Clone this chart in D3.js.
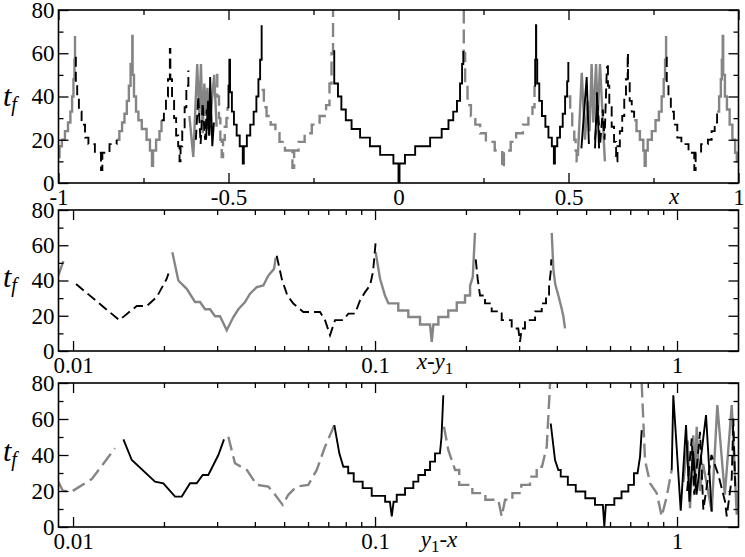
<!DOCTYPE html>
<html>
<head>
<meta charset="utf-8">
<script src="https://cdn.jsdelivr.net/npm/d3@7"></script>
<style>
  body { margin: 0; background: #fff; }
  svg { display: block; font-family: 'Liberation Serif', 'Tinos', 'DejaVu Serif', serif; }
  svg text { font-family: 'Liberation Serif', 'Tinos', 'DejaVu Serif', serif; }
</style>
</head>
<body>
<svg id="chart" width="745" height="557"></svg>
<script>
// ---- tick values ----
const yMajor = [0, 20, 40, 60, 80];
const yMinor = [10, 30, 50, 70];
const p1Major = [-1, -0.5, 0, 0.5, 1];
const p1Minor = [-0.75, -0.25, 0.25, 0.75];
const logMajor = [0.01, 0.1, 1];
const logMinor = [0.02, 0.03, 0.04, 0.05, 0.06, 0.07, 0.08, 0.09, 0.2, 0.3, 0.4, 0.5, 0.6, 0.7, 0.8, 0.9];

// ---- panel 1: t_f vs x (staircase segments, [x, level]) ----
const p1GraySolid = [
  [[-1, 12], [-0.997, 17], [-0.99, 20], [-0.981, 24], [-0.972, 28], [-0.965, 33], [-0.96, 40], [-0.956, 48], [-0.953, 57], [-0.9515, 68]],
  [[-0.829, 20], [-0.821, 24], [-0.813, 28], [-0.806, 32], [-0.799, 38], [-0.793, 45], [-0.788, 55], [-0.783, 68], [-0.782, 50], [-0.778, 40], [-0.772, 33], [-0.765, 29], [-0.755, 25], [-0.741, 20], [-0.731, 15], [-0.725, 8], [-0.722, 15], [-0.713, 20], [-0.703, 24], [-0.697, 29]],
  [[0.693, 29], [0.7, 24], [0.71, 20], [0.72, 15], [0.724, 8], [0.727, 15], [0.733, 20], [0.745, 24], [0.756, 29], [0.766, 33], [0.774, 40], [0.78, 48], [0.784, 57], [0.787, 68]],
  [[0.937, 33], [0.943, 40], [0.948, 48], [0.951, 57], [0.9535, 68], [0.955, 50], [0.96, 40], [0.966, 34], [0.974, 27], [0.982, 20], [0.99, 14], [0.995, 10], [1.0, 10]]
];
const p1BlackDashed = [
  [[-0.9515, 58], [-0.949, 46], [-0.945, 40], [-0.94, 33], [-0.932, 27], [-0.922, 21], [-0.912, 18], [-0.893, 14], [-0.875, 6], [-0.871, 14], [-0.85, 18], [-0.829, 20]],
  [[-0.697, 29], [-0.69, 33], [-0.684, 40], [-0.678, 48], [-0.6725, 62], [-0.671, 48], [-0.666, 38], [-0.66, 30], [-0.654, 22], [-0.648, 17], [-0.644, 10], [-0.641, 17], [-0.636, 24], [-0.629, 35], [-0.624, 45], [-0.618, 52]],
  [[0.613, 54], [0.616, 45], [0.62, 35], [0.627, 26], [0.634, 19], [0.64, 10], [0.644, 17], [0.651, 24], [0.658, 31], [0.664, 40], [0.669, 48], [0.674, 60], [0.675, 47], [0.68, 38], [0.686, 33], [0.693, 29]],
  [[0.787, 58], [0.789, 46], [0.794, 40], [0.801, 33], [0.81, 27], [0.82, 21], [0.832, 18], [0.853, 14], [0.87, 6], [0.874, 14], [0.89, 18], [0.91, 20], [0.921, 24], [0.93, 28], [0.937, 33]]
];
const p1BlackSolid = [
  [[-0.503, 35], [-0.5, 45], [-0.4975, 57], [-0.4955, 42], [-0.49, 33], [-0.484, 27], [-0.476, 22], [-0.467, 17], [-0.458, 9], [-0.455, 17], [-0.446, 22], [-0.436, 27], [-0.426, 33], [-0.418, 40], [-0.412, 48], [-0.407, 57], [-0.4025, 73]],
  [[-0.1915, 61], [-0.189, 46], [-0.178, 40], [-0.168, 34], [-0.155, 29], [-0.138, 25], [-0.113, 21], [-0.084, 17], [-0.054, 13], [-0.015, 9], [0.0, 0], [0.003, 9], [0.019, 13], [0.049, 17], [0.093, 21], [0.127, 25], [0.147, 29], [0.161, 33], [0.172, 38], [0.181, 46], [0.187, 55], [0.1906, 61]],
  [[0.4, 45], [0.402, 57], [0.4044, 73], [0.405, 57], [0.408, 46], [0.414, 38], [0.422, 31], [0.432, 26], [0.441, 21], [0.451, 17], [0.457, 9], [0.46, 17], [0.467, 21], [0.475, 26], [0.483, 32], [0.49, 40], [0.496, 47], [0.4995, 56]]
];
const p1GrayDashed = [
  [[-0.537, 50], [-0.533, 40], [-0.528, 30], [-0.524, 20], [-0.52, 12], [-0.516, 20], [-0.511, 26], [-0.506, 30], [-0.503, 35]],
  [[-0.4025, 43], [-0.396, 35], [-0.388, 31], [-0.376, 27], [-0.362, 23], [-0.35, 19], [-0.334, 15], [-0.312, 7], [-0.307, 15], [-0.294, 19], [-0.276, 23], [-0.255, 27], [-0.232, 31], [-0.213, 36], [-0.203, 46], [-0.197, 60], [-0.1925, 80]],
  [[0.1906, 80], [0.192, 60], [0.196, 45], [0.203, 36], [0.213, 31], [0.226, 27], [0.24, 23], [0.257, 19], [0.283, 15], [0.305, 7], [0.31, 15], [0.33, 19], [0.346, 23], [0.366, 27], [0.382, 31], [0.394, 35], [0.4, 45]],
  [[0.4995, 40], [0.505, 33], [0.511, 26], [0.517, 20], [0.521, 15], [0.524, 10], [0.528, 14]]
];
// irregular bands near x = -0.58 and x = 0.57 (point to point)
const p1ChaosGraySolid = [
  [[-0.615, 31], [-0.6035, 12], [-0.592, 55], [-0.586, 31], [-0.581, 55], [-0.576, 23], [-0.571, 46], [-0.566, 31], [-0.562, 44], [-0.556, 25], [-0.542, 50], [-0.535, 26]],
  [[0.528, 14], [0.539, 51], [0.5485, 20], [0.556, 38], [0.562, 24], [0.568, 55], [0.573, 28], [0.581, 55], [0.586, 30], [0.5926, 55], [0.607, 10]]
];
const p1ChaosBlackDashed = [
  [[-0.596, 20], [-0.589, 40], [-0.582, 18], [-0.576, 37], [-0.569, 20], [-0.564, 34], [-0.557, 22], [-0.552, 35]],
  [[0.578, 20], [0.586, 36], [0.593, 18], [0.601, 34], [0.606, 20], [0.613, 54]]
];
const p1ChaosBlackSolid = [
  [[-0.566, 20], [-0.56, 38], [-0.5565, 22], [-0.554, 49], [-0.5476, 17], [-0.543, 28]],
  [[0.538, 16], [0.5535, 49], [0.56, 18]],
  [[0.578, 16], [0.584, 42], [0.59, 16]]
];

// ---- panel 2: t_f vs x - y1 ----
const p2GraySolid = [
  [[0.00895, 43], [0.00929, 51]],
  [[0.02132, 56], [0.02232, 40], [0.02379, 35.3], [0.02535, 27.8], [0.02634, 27.8], [0.02736, 23.7], [0.02842, 23.7], [0.02953, 19.7], [0.03067, 19.7], [0.03228, 11.8], [0.03395, 19.3], [0.03527, 23.7], [0.03711, 27.8], [0.03855, 32.5], [0.04057, 36.2], [0.04266, 37.2], [0.04433, 42.8], [0.0463, 46.6], [0.0469, 53]],
  [[0.1005, 56], [0.1039, 41], [0.1079, 31.5], [0.1107, 27], [0.1194, 27], [0.1194, 23], [0.1289, 23], [0.1289, 19.3], [0.1409, 19.3], [0.1409, 15], [0.1521, 15], [0.1541, 5.2], [0.156, 15], [0.1621, 15], [0.1621, 19.3], [0.1748, 19.3], [0.1748, 23], [0.1865, 23], [0.1865, 27.5], [0.1986, 27.5], [0.1986, 31.5], [0.2064, 31.5], [0.2064, 37], [0.2107, 42], [0.2143, 67]],
  [[0.3847, 67], [0.3895, 46.6], [0.395, 38], [0.4046, 31.5], [0.4151, 24], [0.42, 20], [0.4257, 12.8]]
];
const p2BlackDashed = [
  [[0.01023, 38], [0.01423, 17.5], [0.01625, 25.5], [0.01754, 25.5], [0.01893, 30.6], [0.02043, 41], [0.0207, 44]],
  [[0.04725, 54], [0.0491, 41], [0.05124, 31.5], [0.05364, 26.9], [0.05789, 22.1], [0.06575, 22.1], [0.0683, 17.5], [0.07096, 9], [0.07371, 17.5], [0.07852, 17.5], [0.08157, 21.2], [0.08585, 21.2], [0.08917, 28.7], [0.09266, 33.4], [0.09625, 37.2], [0.0985, 45], [0.1005, 62]],
  [[0.2155, 52], [0.219, 40], [0.2227, 31.5], [0.2313, 31.5], [0.2313, 27], [0.2434, 27], [0.2434, 22.5], [0.2627, 22.5], [0.2627, 17.5], [0.2835, 17.5], [0.2835, 12.8], [0.2981, 12.8], [0.302, 5.2], [0.3059, 12.8], [0.3137, 12.8], [0.3137, 17.5], [0.3387, 17.5], [0.3387, 22.5], [0.3565, 22.5], [0.3565, 27], [0.3683, 27], [0.3683, 31.5], [0.377, 31.5], [0.377, 37], [0.3818, 45], [0.3835, 52]]
];

// ---- panel 3: t_f vs y1 - x ----
const p3GrayDashed = [
  [[0.00895, 25], [0.00925, 20.1], [0.0099, 19.7], [0.01153, 26.6], [0.01377, 43.7]],
  [[0.03267, 50.1], [0.03438, 35.4], [0.03761, 31.7], [0.04057, 23.4], [0.04433, 22.5], [0.04666, 17.9], [0.04947, 12.3], [0.05163, 17.9], [0.05503, 22.5], [0.06012, 23.4], [0.06412, 31.7], [0.0683, 44.6], [0.07332, 56.6]],
  [[0.1692, 55.7], [0.1748, 42.8], [0.1841, 31.7], [0.19, 31.7], [0.19, 23.4], [0.21, 23.4], [0.21, 18.8], [0.232, 18.8], [0.232, 15.1], [0.256, 15.1], [0.2627, 5.9], [0.2695, 15.1], [0.285, 15.1], [0.285, 18.8], [0.305, 18.8], [0.305, 23.4], [0.326, 23.4], [0.326, 28], [0.343, 28], [0.343, 33.5], [0.357, 33.5], [0.3703, 44.6], [0.3798, 79.7]],
  [[0.764, 79.7], [0.7834, 37.2], [0.8141, 24.3], [0.8567, 18.8], [0.8899, 5.9], [0.9244, 16.9], [0.9603, 31.7]]
];
const p3BlackSolid = [
  [[0.01468, 48.7], [0.01565, 37.2], [0.01868, 25.2], [0.01991, 24.3], [0.02177, 16.9], [0.02291, 16.9], [0.0244, 24.3], [0.02567, 24.3], [0.02688, 28.9], [0.02805, 28.9], [0.03028, 40], [0.03162, 48.7]],
  [[0.07332, 56.6], [0.07616, 40.9], [0.07852, 33.5], [0.0815, 33.5], [0.0815, 29.9], [0.085, 29.9], [0.085, 25.2], [0.091, 25.2], [0.091, 21.6], [0.0975, 21.6], [0.0975, 17.3], [0.108, 17.3], [0.108, 14], [0.112, 14], [0.1136, 5.9], [0.1152, 14], [0.118, 14], [0.118, 17.9], [0.1257, 17.9], [0.1257, 21.6], [0.1339, 21.6], [0.1339, 25.2], [0.1391, 25.2], [0.1391, 28.9], [0.1464, 28.9], [0.1464, 31.7], [0.1521, 31.7], [0.1521, 36.3], [0.158, 36.3], [0.158, 40.9], [0.164, 40.9], [0.166, 50], [0.1683, 73.2]],
  [[0.3818, 57.5], [0.3945, 37.2], [0.4046, 31.7], [0.412, 31.7], [0.412, 28], [0.435, 28], [0.435, 23.4], [0.462, 23.4], [0.462, 19.7], [0.497, 19.7], [0.497, 16], [0.535, 16], [0.535, 12.3], [0.568, 12.3], [0.5745, 0.3], [0.581, 12.3], [0.62, 12.3], [0.62, 16], [0.655, 16], [0.655, 19.7], [0.69, 19.7], [0.69, 23.4], [0.72, 23.4], [0.72, 29.9], [0.74, 29.9], [0.7542, 39], [0.764, 53.8]],
  [[0.9603, 31.7], [0.9721, 73.2], [1.0287, 9], [1.0711, 56.6], [1.1, 14], [1.13, 42], [1.16, 18], [1.2474, 62.2], [1.3028, 8.6]]
];
const p3GraySolid = [
  [[1.05, 25], [1.085, 48], [1.1041, 10.5], [1.1324, 51], [1.145, 22], [1.162, 55.7], [1.19, 20], [1.22, 35], [1.3028, 8.6], [1.3596, 67.7], [1.44, 18], [1.5175, 67.7], [1.5765, 6.8], [1.598, 20]]
];
const p3BlackDashed = [
  [[1.08, 20], [1.1186, 49.2], [1.14, 18], [1.1918, 52.9], [1.2222, 9.6], [1.3, 40], [1.3702, 29], [1.4419, 14.2], [1.4609, 5.9], [1.5175, 27], [1.5361, 60.3], [1.56, 20]]
];

// ---- look ----
const SERIF = "'Liberation Serif', 'Tinos', 'DejaVu Serif', serif";
const GRAY = '#858585', BLACK = '#000';
const styles = {
  graySolid:   { color: GRAY,  width: 2.4, dash: null },
  grayDashed:  { color: GRAY,  width: 2.4, dash: '14,6' },
  blackSolid:  { color: BLACK, width: 1.9, dash: null },
  blackDashed: { color: BLACK, width: 1.9, dash: '10,5' }
};
const LEFT = 58.5, RIGHT = 738.5;
const FONT = 23;

const svg = d3.select('#chart');
svg.append('rect').attr('width', 745).attr('height', 557).attr('fill', '#fff');

const panels = [
  {
    id: 'p1', top: 10, bottom: 183, labelY: 106,
    x: d3.scaleLinear().domain([-1, 1]).range([LEFT, RIGHT]),
    major: p1Major, minor: p1Minor, fmt: d => String(d),
    layers: [
      { data: p1GrayDashed, style: 'grayDashed', curve: d3.curveStepAfter },
      { data: p1GraySolid, style: 'graySolid', curve: d3.curveStepAfter },
      { data: p1ChaosGraySolid, style: 'graySolid', curve: d3.curveLinear },
      { data: p1BlackDashed, style: 'blackDashed', curve: d3.curveStepAfter },
      { data: p1ChaosBlackDashed, style: 'blackDashed', curve: d3.curveLinear },
      { data: p1BlackSolid, style: 'blackSolid', curve: d3.curveStepAfter },
      { data: p1ChaosBlackSolid, style: 'blackSolid', curve: d3.curveLinear }
    ],
    xLabel: { x: 674, y: 204, parts: [['x', 0]] }
  },
  {
    id: 'p2', top: 210, bottom: 351, labelY: 287,
    x: d3.scaleLog().domain([0.00895, 1.598]).range([LEFT, RIGHT]),
    major: logMajor, minor: logMinor, fmt: d => String(d),
    layers: [
      { data: p2GraySolid, style: 'graySolid', curve: d3.curveLinear },
      { data: p2BlackDashed, style: 'blackDashed', curve: d3.curveLinear }
    ],
    xLabel: { x: 435, y: 369, parts: [['x-y', 0], ['1', 1]] }
  },
  {
    id: 'p3', top: 383, bottom: 527, labelY: 461,
    x: d3.scaleLog().domain([0.00895, 1.598]).range([LEFT, RIGHT]),
    major: logMajor, minor: logMinor, fmt: d => String(d),
    layers: [
      { data: p3GrayDashed, style: 'grayDashed', curve: d3.curveLinear },
      { data: p3GraySolid, style: 'graySolid', curve: d3.curveLinear },
      { data: p3BlackDashed, style: 'blackDashed', curve: d3.curveLinear },
      { data: p3BlackSolid, style: 'blackSolid', curve: d3.curveLinear }
    ],
    xLabel: { x: 439, y: 547, parts: [['y', 0], ['1', 1], ['-x', -1]] }
  }
];

function styleAxis(sel) {
  sel.attr('font-family', SERIF).attr('font-size', FONT);
  sel.select('.domain').remove();
  sel.selectAll('.tick line').attr('stroke', '#000').attr('stroke-width', 1.3);
  sel.selectAll('text').attr('font-family', SERIF).attr('font-size', FONT).attr('fill', '#000');
}

panels.forEach(p => {
  const x = p.x;
  const y = d3.scaleLinear().domain([0, 80]).range([p.bottom, p.top]);
  const g = svg.append('g').attr('font-family', SERIF);

  // white plot area covers labels of the panel above
  g.append('rect').attr('x', LEFT).attr('y', p.top)
    .attr('width', RIGHT - LEFT).attr('height', p.bottom - p.top).attr('fill', '#fff');

  g.append('clipPath').attr('id', 'clip-' + p.id)
    .append('rect').attr('x', LEFT).attr('y', p.top)
    .attr('width', RIGHT - LEFT).attr('height', p.bottom - p.top);

  const plot = g.append('g').attr('clip-path', `url(#clip-${p.id})`);
  p.layers.forEach(layer => {
    const s = styles[layer.style];
    const line = d3.line().x(d => x(d[0])).y(d => y(d[1])).curve(layer.curve);
    plot.append('g').selectAll('path')
      .data(layer.data)
      .join('path')
      .attr('d', line)
      .attr('fill', 'none')
      .attr('stroke', s.color)
      .attr('stroke-width', s.width)
      .attr('stroke-dasharray', s.dash);
  });

  const MAJ = 10, MIN = 5;
  // bottom
  g.append('g').attr('transform', `translate(0,${p.bottom})`)
    .call(d3.axisBottom(x).tickValues(p.major).tickSize(-MAJ).tickPadding(6).tickFormat(p.fmt))
    .call(styleAxis);
  g.append('g').attr('transform', `translate(0,${p.bottom})`)
    .call(d3.axisBottom(x).tickValues(p.minor).tickSize(-MIN).tickFormat(''))
    .call(styleAxis);
  // top
  g.append('g').attr('transform', `translate(0,${p.top})`)
    .call(d3.axisTop(x).tickValues(p.major).tickSize(-MAJ).tickFormat(''))
    .call(styleAxis);
  g.append('g').attr('transform', `translate(0,${p.top})`)
    .call(d3.axisTop(x).tickValues(p.minor).tickSize(-MIN).tickFormat(''))
    .call(styleAxis);
  // left
  g.append('g').attr('transform', `translate(${LEFT},0)`)
    .call(d3.axisLeft(y).tickValues(yMajor).tickSize(-MAJ).tickPadding(4))
    .call(styleAxis);
  g.append('g').attr('transform', `translate(${LEFT},0)`)
    .call(d3.axisLeft(y).tickValues(yMinor).tickSize(-MIN).tickFormat(''))
    .call(styleAxis);
  // right
  g.append('g').attr('transform', `translate(${RIGHT},0)`)
    .call(d3.axisRight(y).tickValues(yMajor).tickSize(-MAJ).tickFormat(''))
    .call(styleAxis);
  g.append('g').attr('transform', `translate(${RIGHT},0)`)
    .call(d3.axisRight(y).tickValues(yMinor).tickSize(-MIN).tickFormat(''))
    .call(styleAxis);

  g.append('rect').attr('x', LEFT).attr('y', p.top)
    .attr('width', RIGHT - LEFT).attr('height', p.bottom - p.top)
    .attr('fill', 'none').attr('stroke', '#000').attr('stroke-width', 1.6);

  // y label t_f
  const tl = g.append('text').attr('x', 3).attr('y', p.labelY)
    .attr('font-family', SERIF).attr('font-style', 'italic');
  tl.append('tspan').attr('font-size', 30).text('t');
  tl.append('tspan').attr('font-size', 20).attr('dy', 5).text('f');

  // x label with subscripts
  const xl = g.append('text').attr('x', p.xLabel.x).attr('y', p.xLabel.y)
    .attr('font-family', SERIF).attr('text-anchor', 'middle').attr('font-size', FONT);
  let shift = 0;
  p.xLabel.parts.forEach(([txt, sub]) => {
    const ts = xl.append('tspan').text(txt);
    if (sub === 1) {
      ts.attr('font-size', 17).attr('dy', 5 - shift);
      shift = 5;
    } else {
      ts.attr('font-style', 'italic');
      if (shift) { ts.attr('dy', -shift); shift = 0; }
    }
  });
});
</script>
</body>
</html>
